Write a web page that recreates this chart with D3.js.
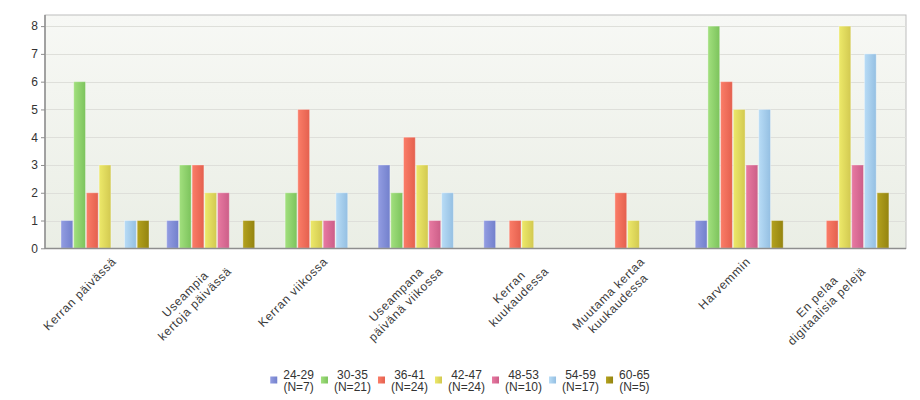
<!DOCTYPE html>
<html><head><meta charset="utf-8">
<script src="https://cdn.jsdelivr.net/npm/d3@7"></script>
<style>
html,body{margin:0;padding:0;background:#fff;}
svg{display:block;font-family:"Liberation Sans",Arial,sans-serif;}
</style></head>
<body><svg id="c" width="920" height="400"></svg>
<script>
const categories = ["Kerran päivässä","Useampia\nkertoja päivässä","Kerran viikossa","Useampana\npäivänä viikossa","Kerran\nkuukaudessa","Muutama kertaa\nkuukaudessa","Harvemmin","En pelaa\ndigitaalisia pelejä"];
const seriesNames = ["24-29","30-35","36-41","42-47","48-53","54-59","60-65"];
const seriesN = ["(N=7)","(N=21)","(N=24)","(N=24)","(N=10)","(N=17)","(N=5)"];
const v2429 = [1,1,0,3,1,0,1,0];
const v3035 = [6,3,2,2,0,0,8,0];
const v3641 = [2,3,5,4,1,2,6,1];
const v4247 = [3,2,1,3,1,1,5,8];
const v4853 = [0,2,1,1,0,0,3,3];
const v5459 = [1,0,2,2,0,0,5,7];
const v6065 = [1,1,0,0,0,0,1,2];
const seriesValues = [v2429,v3035,v3641,v4247,v4853,v5459,v6065];
const yTicks = [0,1,2,3,4,5,6,7,8];
const colors = [["#939de2","#7280cc"],["#a2e07e","#7cc35c"],["#fb7d68","#e4604e"],["#ede96a","#d2c950"],["#e87aa2","#cc5e88"],["#b8dcf6","#94bfe2"],["#b4a21e","#948410"]];

const svg = d3.select("#c");
const plot = {l:45, r:906, t:15, b:248.5};

const defs = svg.append("defs");
const bg = defs.append("linearGradient").attr("id","bg").attr("x1",0).attr("y1",0).attr("x2",0).attr("y2",1);
bg.append("stop").attr("offset","0%").attr("stop-color","#f7f8f5");
bg.append("stop").attr("offset","100%").attr("stop-color","#eaeee5");
colors.forEach((c,i)=>{
  const g = defs.append("linearGradient").attr("id","g"+i).attr("x1",0).attr("y1",0).attr("x2",1).attr("y2",0);
  g.append("stop").attr("offset","0%").attr("stop-color",c[0]);
  g.append("stop").attr("offset","100%").attr("stop-color",c[1]);
});

svg.append("rect").attr("x",plot.l).attr("y",plot.t).attr("width",plot.r-plot.l).attr("height",plot.b-plot.t)
  .attr("fill","url(#bg)").attr("stroke","#bdbdbd").attr("stroke-width",1);

const y = d3.scaleLinear().domain([0,8.4]).range([248.3,15]);
const x0 = d3.scaleBand().domain(categories).range([52.15, 52.15+105.7*8]).paddingInner(0).paddingOuter(0);
const x1 = d3.scaleBand().domain(seriesNames).range([8.85, 105.7-8.85]).paddingInner(0.07).paddingOuter(0);

// grid
svg.append("g").selectAll("line").data(yTicks.filter(d=>d>0)).join("line")
  .attr("x1",plot.l).attr("x2",plot.r).attr("y1",d=>Math.round(y(d))+0.5).attr("y2",d=>Math.round(y(d))+0.5)
  .attr("stroke","#dedfda").attr("stroke-width",1);

// bars
const gs = svg.append("g").selectAll("g").data(categories).join("g")
  .attr("transform",d=>`translate(${x0(d)},0)`);
gs.selectAll("rect").data((d,ci)=>seriesNames.map((s,si)=>({s,si,v:seriesValues[si][ci]})).filter(e=>e.v>0)).join("rect")
  .attr("x",e=>x1(e.s)).attr("width",x1.bandwidth())
  .attr("y",e=>y(e.v)).attr("height",e=>y(0)-y(e.v))
  .attr("fill",e=>`url(#g${e.si})`)
  .attr("stroke","#ffffff").attr("stroke-opacity",0.35).attr("stroke-width",1);

// axes lines
svg.append("line").attr("x1",plot.l).attr("x2",plot.l).attr("y1",plot.t).attr("y2",plot.b+0.5).attr("stroke","#8e8e8e").attr("stroke-width",1.5);
svg.append("line").attr("x1",plot.l).attr("x2",plot.r).attr("y1",plot.b).attr("y2",plot.b).attr("stroke","#8e8e8e").attr("stroke-width",1.5);

// y axis
const yAxis = d3.axisLeft(y).tickValues(yTicks).tickSize(4).tickPadding(3).tickFormat(d3.format("d"));
const ya = svg.append("g").attr("transform",`translate(${plot.l},0)`).call(yAxis);
ya.select(".domain").remove();
ya.selectAll(".tick line").attr("stroke","#8e8e8e");
ya.selectAll(".tick text").attr("fill","#333").style("font-size","12px").style("font-family","'Liberation Sans',Arial,sans-serif");

// x labels
const xl = svg.append("g").selectAll("g").data(categories).join("g")
  .attr("transform",d=>`translate(${x0(d)+x0.bandwidth()/2+12},262.4) rotate(-45)`);
xl.each(function(d){
  const g = d3.select(this);
  const lines = d.split("\n");
  const t = g.append("text").attr("fill","#3a3a3a").style("font-size","12px").style("letter-spacing","0.7px").attr("text-anchor","middle");
  lines.forEach((ln,i)=>t.append("tspan").attr("x",0).attr("y",i*13.6).text(ln));
  let maxW = 0;
  t.selectAll("tspan").each(function(){ maxW = Math.max(maxW, this.getComputedTextLength()); });
  t.selectAll("tspan").attr("x",-maxW/2);
});

// legend
const leg = svg.append("g");
let lx = 0;
seriesNames.forEach((s,i)=>{
  const it = leg.append("g");
  it.append("rect").attr("x",0).attr("y",376.5).attr("width",7).attr("height",7).attr("fill",`url(#g${i})`);
  const t = it.append("text").attr("fill","#333").style("font-size","12px").attr("text-anchor","middle");
  t.append("tspan").attr("y",378.5).text(s);
  t.append("tspan").attr("y",391).text(seriesN[i]);
  let w = 0;
  t.selectAll("tspan").each(function(){ w = Math.max(w,this.getComputedTextLength()); });
  t.selectAll("tspan").attr("x",7+6+w/2);
  it.attr("transform",`translate(${lx},0)`);
  lx += 7+6+w+7;
});
const totalW = lx-7;
leg.attr("transform",`translate(${(920-totalW)/2},0)`);
</script></body></html>
